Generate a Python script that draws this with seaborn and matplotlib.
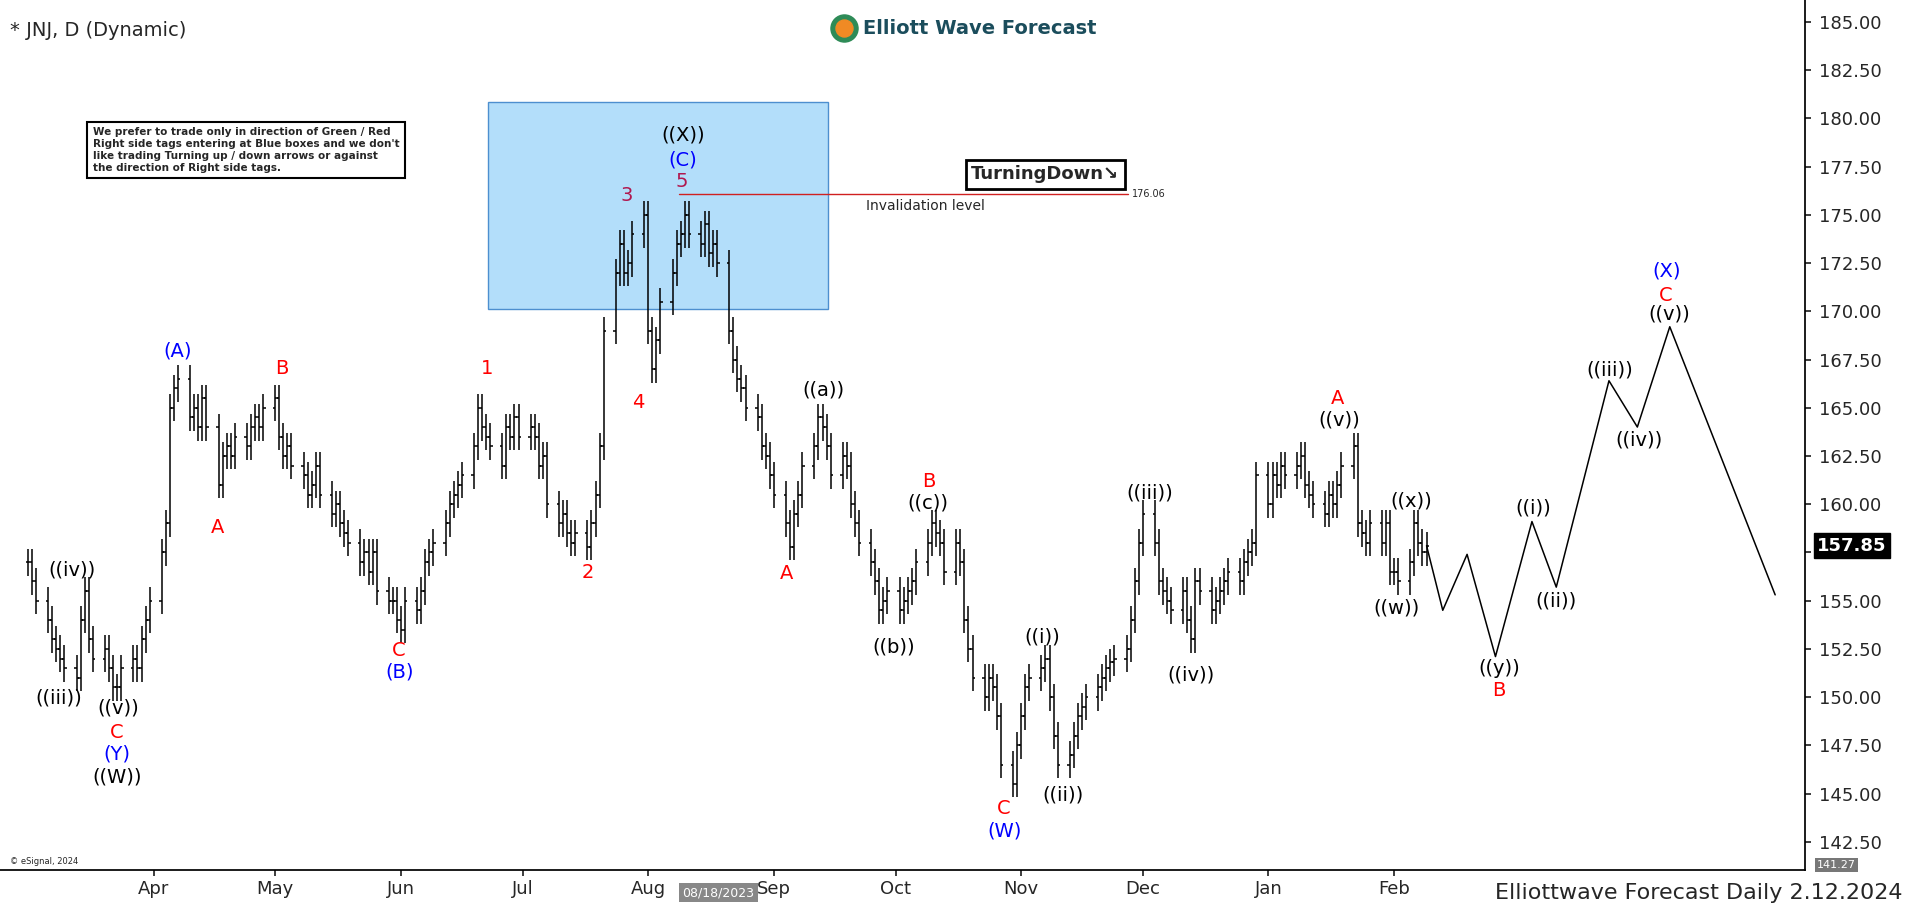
import pandas as pd
import numpy as np
import matplotlib
matplotlib.use("Agg")
import matplotlib.pyplot as plt
import matplotlib.dates as mdates
import seaborn as sns

# daily closes, month by month (business days)
mar = [157, 156, 155, 154, 153, 152.5, 152, 151.5, 151, 154, 155.5, 153, 152, 152.5, 151.5, 150.5,
       150.5, 151.5, 152, 151.5, 153, 154, 155]
apr = [157.5, 159, 165, 166, 166.5, 164.5, 165, 164, 165.5, 164, 161, 162.5, 163, 162.5, 163.5, 163,
       164, 164.5, 164, 165]
may = [165.5, 163.5, 162.5, 163, 162, 161.5, 160.5, 161, 162, 160.5, 159.5, 160, 159, 158.5, 158, 157,
       157.5, 156.5, 157.5, 155.5, 155, 155, 154]
jun = [153.5, 155, 154.5, 155.5, 157, 157.5, 158, 159, 160, 160.5, 161, 161.5, 163, 165, 164, 163.5,
       163, 162, 164, 163.5, 164.5, 163.5]
jul = [164, 163.5, 162, 162.5, 160, 159, 159.5, 158.5, 158, 158.5, 157.8, 159, 160.5, 163, 169, 172,
       173.5, 172, 172.5, 174, 175]
aug = [169, 167, 168.5, 170.5, 172, 173.5, 174, 175, 174, 173.5, 174.5, 173, 173.5, 172.5, 169,
       167.5, 166.5, 166, 165, 164.5, 163, 162.5, 161.5]
sep = [160.5, 159, 157.8, 159.5, 160.5, 162, 163, 164.5, 164, 163, 161.5, 162.5, 162, 160, 159, 158,
       157, 156, 154.5, 155, 155.5]
oct_ = [154.5, 155, 155.5, 156, 157, 158, 159, 158.5, 158, 156.5, 158, 157, 154, 152.5, 151, 150,
        151, 150.5, 149, 146.5, 145.5, 147.5]
nov = [149, 150.5, 151, 151.5, 152, 150, 148, 146.5, 147, 148, 149, 149.5, 150, 150.5, 151, 151.5,
       151.8, 152, 152.5, 154, 156, 158]
dec = [159.5, 158, 156, 155.5, 155, 154.5, 155.5, 154, 153, 156, 155.5, 154.5, 155, 155.5, 156, 156.5,
       156, 157, 157.5, 158, 161.5]
jan = [160, 161.5, 161, 162, 161.5, 162, 162.5, 161, 160.5, 160, 159.5, 160.5, 160, 161, 162, 163,
       159, 158.5, 158, 159, 158, 159, 156.5]
feb = [156.5, 156, 157, 159, 158, 157.5, 157.85]
closes = mar + apr + may + jun + jul + aug + sep + oct_ + nov + dec + jan + feb
wick = 0.7

# projected path
proj_dates = ["2024-02-09", "2024-02-13", "2024-02-19", "2024-02-26", "2024-03-06", "2024-03-12",
              "2024-03-25", "2024-04-01", "2024-04-09", "2024-05-05"]
proj_prices = [157.85, 154.5, 157.4, 152.1, 159.1, 155.7, 166.4, 164.0, 169.2, 155.3]

dates = pd.bdate_range("2023-03-01", periods=len(closes))
c = np.array(closes)
o = np.concatenate([[c[0]], c[:-1]])
hi = np.maximum(o, c) + wick
lo = np.minimum(o, c) - wick
xd = mdates.date2num(dates)

sns.set_theme(style="white")
plt.rcParams['font.family'] = ['DejaVu Sans']

fig = plt.figure(figsize=(19.12, 9.09), dpi=100)
ax = fig.add_axes([0.0, 0.043, 0.944, 0.957])

APR1 = mdates.date2num(pd.Timestamp("2023-04-01"))
def X(px):
    return APR1 + (px - 126) / 3.324
def Y(py):
    return 185 - (py - 18) / 15.81

ax.set_xlim(X(0), X(1480))
ax.set_ylim(Y(713), Y(0))

# blue box and invalidation
ax.add_patch(plt.Rectangle((X(400), Y(253)), X(679) - X(400), Y(84) - Y(253),
                           facecolor="#b3defa", edgecolor="#4d8fcf", lw=1, zorder=1))
ax.plot([X(557), X(925)], [176.06, 176.06], color="#d02020", lw=1, zorder=2)
ax.text(X(928), 176.06, "176.06", fontsize=7, va="center", ha="left")
ax.text(X(710), Y(169), "Invalidation level", fontsize=10, va="center", ha="left")
ax.text(X(857), Y(143), "TurningDown\u2198", fontsize=13, weight="bold", ha="center", va="center",
        bbox=dict(boxstyle="square,pad=0.3", facecolor="white", edgecolor="black", lw=2))

# OHLC bars
ax.vlines(xd, lo, hi, color="black", lw=1.1, zorder=3)
ax.hlines(o, xd - 0.6, xd, color="black", lw=1.1, zorder=3)
ax.hlines(c, xd, xd + 0.6, color="black", lw=1.1, zorder=3)

# projection
pdf = pd.DataFrame({"date": mdates.date2num(pd.to_datetime(proj_dates)), "price": proj_prices})
sns.lineplot(data=pdf, x="date", y="price", color="black", lw=1.1, ax=ax, sort=False)

labels = [
    ("((iv))", 59, 467, "black"), ("((iii))", 48, 572, "black"), ("((v))", 97, 580, "black"),
    ("C", 96, 600, "red"), ("(Y)", 96, 618, "blue"), ("((W))", 96, 637, "black"),
    ("(A)", 146, 288, "blue"), ("A", 178, 432, "red"), ("B", 231, 302, "red"),
    ("C", 327, 533, "red"), ("(B)", 328, 551, "blue"), ("1", 399, 302, "red"),
    ("2", 482, 469, "red"), ("3", 514, 160, "#b0184f"), ("4", 523, 330, "red"),
    ("5", 559, 149, "#b0184f"), ("(C)", 560, 131, "blue"), ("((X))", 560, 111, "black"),
    ("A", 645, 470, "red"), ("((a))", 675, 320, "black"), ("((b))", 733, 530, "black"),
    ("((c))", 761, 412, "black"), ("B", 762, 395, "red"), ("C", 823, 663, "red"),
    ("(W)", 824, 681, "blue"), ("((i))", 855, 522, "black"), ("((ii))", 872, 652, "black"),
    ("((iii))", 943, 404, "black"), ("((iv))", 977, 553, "black"), ("((v))", 1098, 344, "black"),
    ("A", 1097, 327, "red"), ("((w))", 1145, 498, "black"), ("((x))", 1157, 411, "black"),
    ("((y))", 1229, 548, "black"), ("B", 1229, 566, "red"), ("((i))", 1257, 416, "black"),
    ("((ii))", 1276, 493, "black"), ("((iii))", 1320, 303, "black"), ("((iv))", 1344, 361, "black"),
    ("((v))", 1369, 257, "black"), ("C", 1366, 242, "red"), ("(X)", 1367, 222, "blue"),
]
for t, px, py, col in labels:
    ax.text(X(px), Y(py), t, color=col, fontsize=14, ha="center", va="center", zorder=5)

note = ("We prefer to trade only in direction of Green / Red\nRight side tags entering at Blue boxes and we don't\n"
        "like trading Turning up / down arrows or against\nthe direction of Right side tags.")
ax.text(X(76), Y(104), note, fontsize=7.5, weight="bold", ha="left", va="top", linespacing=1.25,
        bbox=dict(boxstyle="square,pad=0.5", facecolor="white", edgecolor="black", lw=1.5))

ax.text(X(8), Y(25), "* JNJ, D (Dynamic)", fontsize=14, ha="left", va="center")
ax.text(X(708), Y(23), "Elliott Wave Forecast", fontsize=14, weight="bold", color="#1b4d5c",
        ha="left", va="center")
ax.scatter([X(692)], [Y(23)], s=380, color="#2e8b57", zorder=6)
ax.scatter([X(692)], [Y(23)], s=150, color="#f08a24", zorder=7)
ax.text(X(8), Y(706), "\u00a9 eSignal, 2024", fontsize=6, ha="left", va="center")

# axes styling
ax.yaxis.tick_right()
ax.set_yticks(np.arange(142.5, 185.01, 2.5))
ax.set_yticklabels([f"{v:.2f}" for v in np.arange(142.5, 185.01, 2.5)], fontsize=13)
ax.tick_params(axis="y", length=4, pad=6, right=True)
month_ticks = pd.date_range("2023-04-01", "2024-02-01", freq="MS")
ax.set_xticks(mdates.date2num(month_ticks))
ax.set_xticklabels([d.strftime("%b") for d in month_ticks], fontsize=13)
ax.tick_params(axis="x", length=4, bottom=True)
for s in ["top", "left"]:
    ax.spines[s].set_visible(False)
ax.spines["right"].set_color("black")
ax.spines["bottom"].set_color("black")
ax.set_xlabel("")
ax.set_ylabel("")

# last price tag
ax.text(X(1490), 157.85, "157.85", fontsize=13, weight="bold", color="white", ha="left", va="center",
        bbox=dict(boxstyle="square,pad=0.2", facecolor="black", edgecolor="black"), clip_on=False)
ax.text(X(1490), Y(709), "141.27", fontsize=8, color="white", ha="left", va="center",
        bbox=dict(boxstyle="square,pad=0.15", facecolor="#777777", edgecolor="none"), clip_on=False)

fig.text(0.357 + 0.0, 0.018, "08/18/2023", fontsize=9, color="white", ha="left", va="center",
         bbox=dict(boxstyle="square,pad=0.25", facecolor="#888888", edgecolor="none"))
fig.text(0.995, 0.018, "Elliottwave Forecast Daily 2.12.2024", fontsize=16, ha="right", va="center")

fig.savefig("out.png", dpi=100)
